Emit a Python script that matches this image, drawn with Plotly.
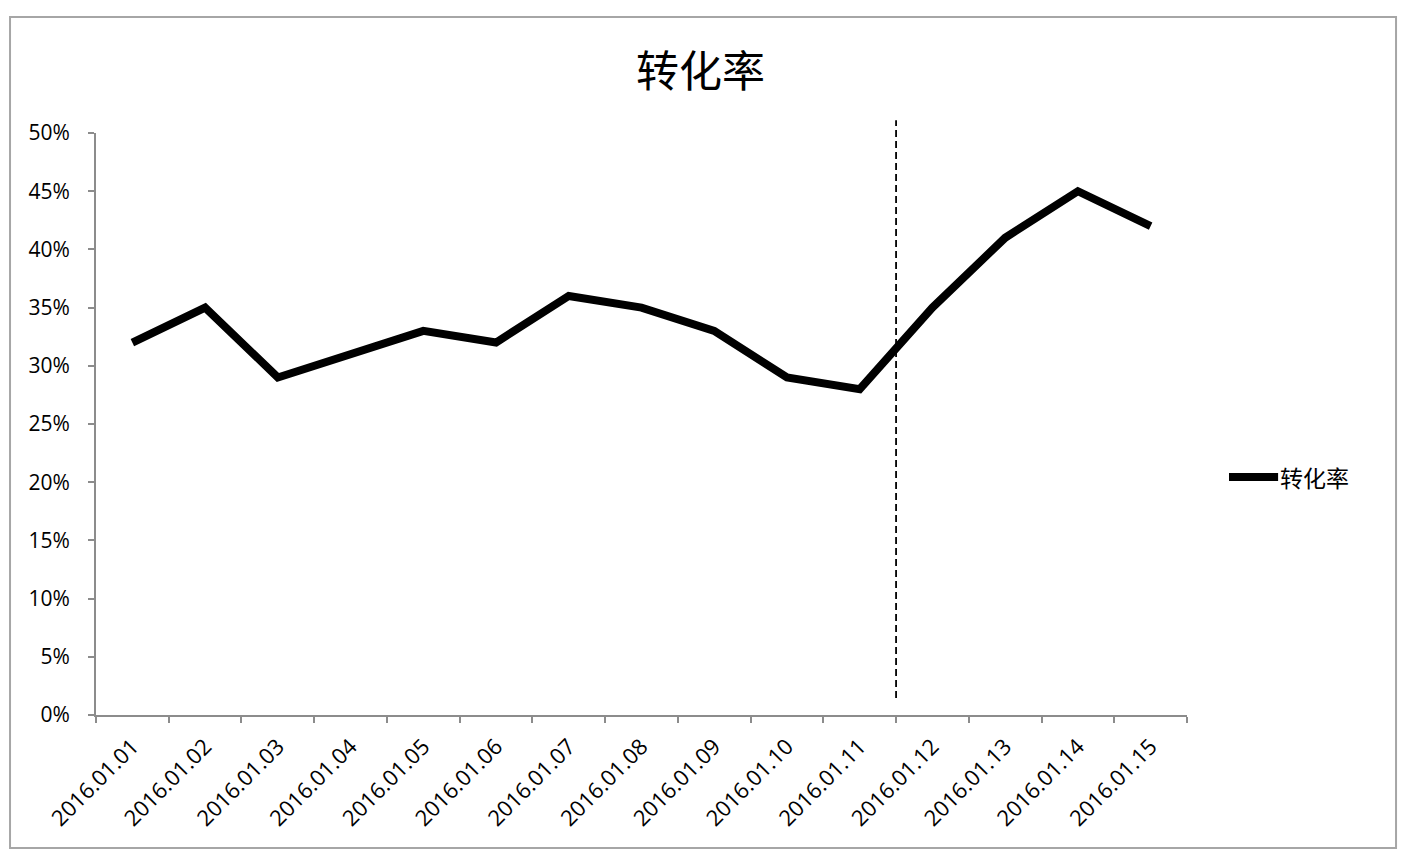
import plotly.graph_objects as go

# data
dates = ["2016.01.01", "2016.01.02", "2016.01.03", "2016.01.04", "2016.01.05",
         "2016.01.06", "2016.01.07", "2016.01.08", "2016.01.09", "2016.01.10",
         "2016.01.11", "2016.01.12", "2016.01.13", "2016.01.14", "2016.01.15"]
rate = [0.32, 0.35, 0.29, 0.31, 0.33, 0.32, 0.36, 0.35, 0.33, 0.29,
        0.28, 0.35, 0.41, 0.45, 0.42]
series_name = "转化率"
y_ticks = [0, 0.05, 0.10, 0.15, 0.20, 0.25, 0.30, 0.35, 0.40, 0.45, 0.50]

LATIN = "'Open Sans', Lato, sans-serif"
CJK = "'Noto Sans CJK SC', sans-serif"
AXIS_GREY = "#8c8c8c"


def main():
    fig = go.Figure()

    fig.add_trace(go.Scatter(x=dates, y=rate, name=series_name, mode="lines",
                             line=dict(color="black", width=8),
                             showlegend=False))

    # dashed marker between 01.11 and 01.12 (pokes out above the plot)
    fig.add_shape(type="line", xref="x", yref="paper", x0=10.5, x1=10.5,
                  y0=0.029, y1=1.022,
                  line=dict(color="black", width=1.8, dash="7px,4px"))

    # outer chart border
    fig.add_shape(type="rect", xref="paper", yref="paper",
                  x0=-0.0788, x1=1.1916, y0=-0.2285, y1=1.1993,
                  line=dict(color="#a6a6a6", width=2), layer="below")

    # legend drawn by hand (Excel style: long swatch, text right after)
    fig.add_shape(type="line", xref="paper", yref="paper",
                  x0=1.0385, x1=1.0835, y0=0.409, y1=0.409,
                  line=dict(color="black", width=8))
    fig.add_annotation(text=series_name, xref="paper", yref="paper",
                       x=1.0835, y=0.409, xanchor="left", yanchor="middle",
                       showarrow=False,
                       font=dict(family=CJK, size=23, color="black"))

    fig.update_layout(
        width=1402, height=856,
        margin=dict(l=88, r=223, t=125, b=149),
        paper_bgcolor="white", plot_bgcolor="white",
        title=dict(text=series_name, xref="container", x=0.494,
                   y=0.925, yanchor="middle", xanchor="center",
                   font=dict(family=CJK, size=43, color="black")),
        showlegend=False,
    )

    fig.update_xaxes(type="category", range=[-0.5, 14.5],
                     tickson="boundaries", ticks="outside", ticklen=6,
                     tickcolor=AXIS_GREY, tickwidth=2,
                     showline=True, linecolor=AXIS_GREY, linewidth=2,
                     showgrid=False, tickangle=-45, ticklabelstandoff=8,
                     tickfont=dict(family=LATIN, size=22, color="black"))

    fig.update_yaxes(range=[0, 0.5], tickvals=y_ticks, tickformat=".0%",
                     ticks="outside", ticklen=6, tickcolor=AXIS_GREY,
                     tickwidth=2, showline=True, linecolor=AXIS_GREY,
                     linewidth=2, showgrid=False, zeroline=False,
                     ticklabelstandoff=14,
                     tickfont=dict(family=LATIN, size=21, color="black"))

    fig.write_html("out.html")


if __name__ == "__main__":
    main()
